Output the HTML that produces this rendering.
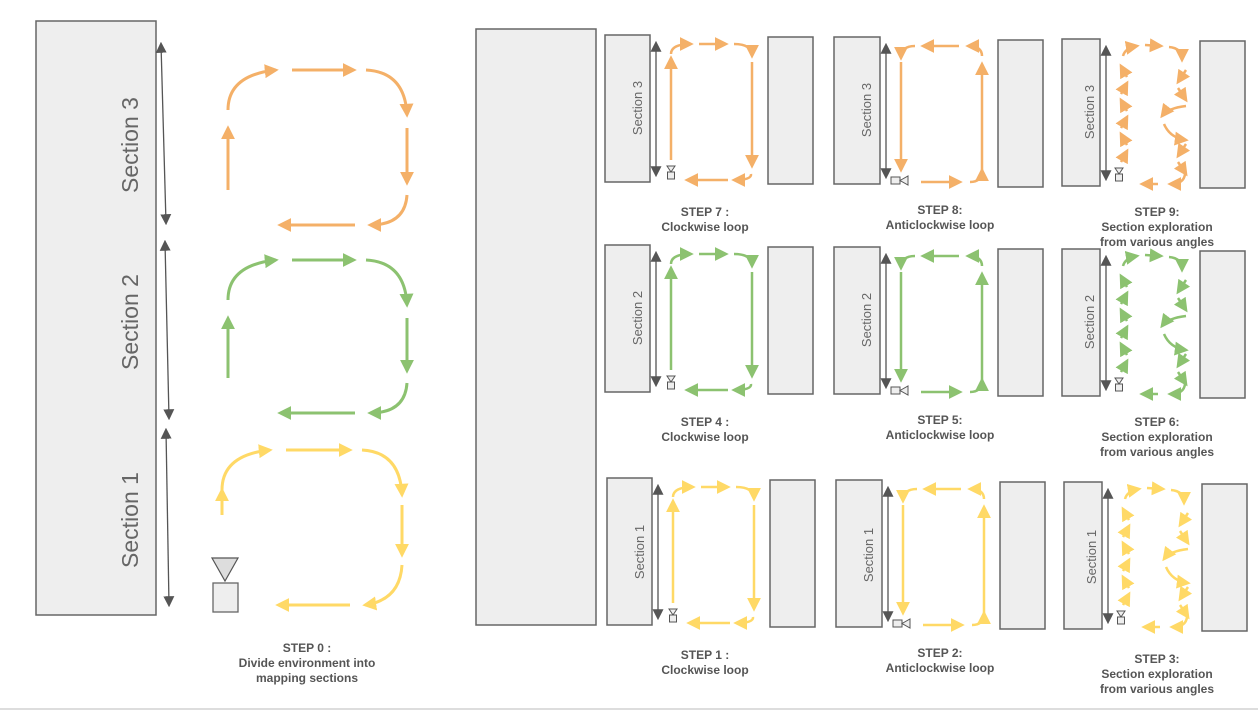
<!DOCTYPE html>
<html><head><meta charset="utf-8"><style>
html,body{margin:0;padding:0;background:#fff;width:1258px;height:711px;overflow:hidden}
svg text{font-family:"Liberation Sans",sans-serif}
.lbl{font-size:12px;font-weight:bold;fill:#555;text-anchor:middle}
.sec{font-size:13px;fill:#666;text-anchor:middle}
.big{font-size:23px;fill:#666;text-anchor:middle}
</style></head><body>
<svg id="s" width="1258" height="711" viewBox="0 0 1258 711" xmlns="http://www.w3.org/2000/svg">
<defs>
<marker id="mo" markerUnits="userSpaceOnUse" viewBox="0 0 10 10" refX="8" refY="5" markerWidth="14" markerHeight="14" orient="auto"><path d="M0,0L10,5L0,10z" fill="#f4b068"/></marker>
<marker id="mg" markerUnits="userSpaceOnUse" viewBox="0 0 10 10" refX="8" refY="5" markerWidth="14" markerHeight="14" orient="auto"><path d="M0,0L10,5L0,10z" fill="#8cc270"/></marker>
<marker id="my" markerUnits="userSpaceOnUse" viewBox="0 0 10 10" refX="8" refY="5" markerWidth="14" markerHeight="14" orient="auto"><path d="M0,0L10,5L0,10z" fill="#ffd966"/></marker>
<marker id="mk" markerUnits="userSpaceOnUse" viewBox="0 0 10 10" refX="8" refY="5" markerWidth="11" markerHeight="11" orient="auto"><path d="M0,0L10,5L0,10z" fill="#555"/></marker>
<marker id="mks" markerUnits="userSpaceOnUse" viewBox="0 0 10 10" refX="2" refY="5" markerWidth="11" markerHeight="11" orient="auto"><path d="M10,0L0,5L10,10z" fill="#555"/></marker>
</defs>
<g id="g"></g>
<line x1="0" y1="709" x2="1258" y2="709" stroke="#bbb" stroke-width="1"/>
<text class="big" transform="translate(138,145) rotate(-90)">Section 3</text>
<text class="big" transform="translate(138,322) rotate(-90)">Section 2</text>
<text class="big" transform="translate(138,520) rotate(-90)">Section 1</text>
<text class="lbl" x="307" y="652">STEP 0 :</text>
<text class="lbl" x="307" y="667">Divide environment into</text>
<text class="lbl" x="307" y="682">mapping sections</text>
<text class="sec" transform="translate(642,108) rotate(-90)">Section 3</text>
<text class="sec" transform="translate(871,110) rotate(-90)">Section 3</text>
<text class="sec" transform="translate(1094,112) rotate(-90)">Section 3</text>
<text class="sec" transform="translate(642,318) rotate(-90)">Section 2</text>
<text class="sec" transform="translate(871,320) rotate(-90)">Section 2</text>
<text class="sec" transform="translate(1094,322) rotate(-90)">Section 2</text>
<text class="sec" transform="translate(644,552) rotate(-90)">Section 1</text>
<text class="sec" transform="translate(873,555) rotate(-90)">Section 1</text>
<text class="sec" transform="translate(1096,557) rotate(-90)">Section 1</text>
<text class="lbl" x="705" y="216">STEP 7 :</text><text class="lbl" x="705" y="231">Clockwise loop</text>
<text class="lbl" x="940" y="214">STEP 8:</text><text class="lbl" x="940" y="229">Anticlockwise loop</text>
<text class="lbl" x="1157" y="216">STEP 9:</text><text class="lbl" x="1157" y="231">Section exploration</text><text class="lbl" x="1157" y="246">from various angles</text>
<text class="lbl" x="705" y="426">STEP 4 :</text><text class="lbl" x="705" y="441">Clockwise loop</text>
<text class="lbl" x="940" y="424">STEP 5:</text><text class="lbl" x="940" y="439">Anticlockwise loop</text>
<text class="lbl" x="1157" y="426">STEP 6:</text><text class="lbl" x="1157" y="441">Section exploration</text><text class="lbl" x="1157" y="456">from various angles</text>
<text class="lbl" x="705" y="659">STEP 1 :</text><text class="lbl" x="705" y="674">Clockwise loop</text>
<text class="lbl" x="940" y="657">STEP 2:</text><text class="lbl" x="940" y="672">Anticlockwise loop</text>
<text class="lbl" x="1157" y="663">STEP 3:</text><text class="lbl" x="1157" y="678">Section exploration</text>
<text class="lbl" x="1157" y="678" dy="15">from various angles</text>
</svg>
<script>
var g=document.getElementById('g'),NS='http://www.w3.org/2000/svg';
function el(t,a){var e=document.createElementNS(NS,t);for(var k in a)e.setAttribute(k,a[k]);g.appendChild(e);return e;}
function rect(x,y,w,h){el('rect',{x:x,y:y,width:w,height:h,fill:'#eeeeee',stroke:'#666','stroke-width':1.5});}
var C={o:'#f4b068',g:'#8cc270',y:'#ffd966'};
function ar(d,c,w){el('path',{d:d,fill:'none',stroke:C[c],'stroke-width':w||3,'marker-end':'url(#m'+c+')'});}
function dbl(x1,y1,x2,y2){el('line',{x1:x1,y1:y1,x2:x2,y2:y2,stroke:'#555','stroke-width':1.3,'marker-end':'url(#mk)','marker-start':'url(#mks)'});}
rect(36,21,120,594);
dbl(161,44,166,223);dbl(165,242,169,418);dbl(166,430,169,605);
function loop0(c,t,b){
 ar('M228,'+(b-35)+'L228,'+(t+58),c);
 ar('M228,'+(t+40)+'Q228,'+(t+5)+' 276,'+t,c);
 ar('M292,'+t+'L354,'+t,c);
 ar('M366,'+t+'Q405,'+(t+2)+' 407,'+(t+45),c);
 ar('M407,'+(t+58)+'L407,'+(b-42),c);
 ar('M407,'+(b-30)+'Q405,'+b+' 370,'+b,c);
 ar('M355,'+b+'L280,'+b,c);
}
loop0('o',70,225);loop0('g',260,413);
ar('M222,515L222,490','y');ar('M222,490Q222,455 270,450','y');ar('M286,450L350,450','y');
ar('M362,450Q400,452 402,495','y');ar('M402,505L402,555','y');ar('M402,565Q400,600 365,605','y');ar('M350,605L278,605','y');
el('path',{d:'M212,558L238,558L225,581z',fill:'#ddd',stroke:'#555','stroke-width':1.2});
el('rect',{x:213,y:583,width:25,height:29,fill:'#eee',stroke:'#666','stroke-width':1.3});
rect(476,29,120,596);
function cam(x,y,h){
 if(h){el('rect',{x:x,y:y-3,width:9,height:7,fill:'#eee',stroke:'#555','stroke-width':1});el('path',{d:'M'+(x+9)+','+(y+0.5)+'L'+(x+17)+','+(y-4)+'L'+(x+17)+','+(y+5)+'z',fill:'#eee',stroke:'#555','stroke-width':1});}
 else{el('path',{d:'M'+(x-4)+','+y+'L'+(x+4)+','+y+'L'+x+','+(y+6)+'z',fill:'#eee',stroke:'#555','stroke-width':1});el('rect',{x:x-3.5,y:y+6,width:7,height:7,fill:'#eee',stroke:'#555','stroke-width':1});}
}
function panel(type,c,x0,y0,x1,y1,lw){
 rect(x0,y0,lw,147);rect(x1,y1,45,147);
 dbl(x0+lw+6,y0+8,x0+lw+6,y0+140);
 var L=x0+lw+21,R=x1-16,T=y0+9,B=y0+145;
 if(type==1){
  cam(L,B-14,0);
  ar('M'+L+','+(B-20)+'L'+L+','+(T+14),c,2.5);
  ar('M'+L+','+(T+10)+'Q'+L+','+T+' '+(L+20)+','+T,c,2.5);
  ar('M'+(L+28)+','+T+'L'+(L+55)+','+T,c,2.5);
  ar('M'+(L+63)+','+T+'Q'+R+','+T+' '+R+','+(T+12),c,2.5);
  ar('M'+R+','+(T+18)+'L'+R+','+(B-14),c,2.5);
  ar('M'+(R-1)+','+(B-6)+'Q'+R+','+B+' '+(R-18)+','+B,c,2.5);
  ar('M'+(R-24)+','+B+'L'+(L+16)+','+B,c,2.5);
 } else if(type==2){
  cam(L-10,B-2,1);
  ar('M'+L+','+(T+16)+'L'+L+','+(B-12),c,2.5);
  ar('M'+(L+14)+','+T+'Q'+L+','+T+' '+L+','+(T+12),c,2.5);
  ar('M'+(L+58)+','+T+'L'+(L+22)+','+T,c,2.5);
  ar('M'+R+','+(T+10)+'Q'+R+','+T+' '+(R-14)+','+T,c,2.5);
  ar('M'+R+','+(B-12)+'L'+R+','+(T+18),c,2.5);
  ar('M'+(R-12)+','+B+'Q'+R+','+B+' '+R+','+(B-12),c,2.5);
  ar('M'+(L+20)+','+B+'L'+(R-22)+','+B,c,2.5);
 } else {
  cam(L-2,B-16,0);
  for(var i=0;i<6;i++){var y=B-22-i*17;var dx=(i%2?6:0);ar('M'+(L+dx)+','+y+'L'+(L+6-dx)+','+(y-11),c,2.5);}
  ar('M'+(L+2)+','+(T+8)+'Q'+(L+4)+','+T+' '+(L+16)+','+(T-2),c,2.5);
  ar('M'+(L+24)+','+(T-3)+'L'+(L+40)+','+(T-2),c,2.5);
  ar('M'+(L+48)+','+(T-1)+'Q'+(R-2)+','+T+' '+(R-2)+','+(T+12),c,2.5);
  ar('M'+(R+2)+','+(T+22)+'L'+(R-6)+','+(T+34),c,2.5);
  ar('M'+(R-6)+','+(T+40)+'L'+(R+2)+','+(T+52),c,2.5);
  ar('M'+(R+2)+','+(T+58)+'Q'+(R-16)+','+(T+60)+' '+(R-22)+','+(T+68),c,2.5);
  ar('M'+(R-20)+','+(T+76)+'Q'+(R-14)+','+(T+90)+' '+(R+2)+','+(T+92),c,2.5);
  ar('M'+(R+2)+','+(T+96)+'L'+(R-6)+','+(T+108),c,2.5);
  ar('M'+(R-6)+','+(T+114)+'L'+(R+2)+','+(T+126),c,2.5);
  ar('M'+(R+1)+','+(B-10)+'Q'+R+','+B+' '+(R-14)+','+B,c,2.5);
  ar('M'+(R-26)+','+B+'L'+(R-42)+','+B,c,2.5);
 }
}
panel(1,'o',605,35,768,37,45);panel(2,'o',834,37,998,40,46);panel(3,'o',1062,39,1200,41,38);
panel(1,'g',605,245,768,247,45);panel(2,'g',834,247,998,249,46);panel(3,'g',1062,249,1200,251,38);
panel(1,'y',607,478,770,480,45);panel(2,'y',836,480,1000,482,46);panel(3,'y',1064,482,1202,484,38);
</script>
</body></html>
